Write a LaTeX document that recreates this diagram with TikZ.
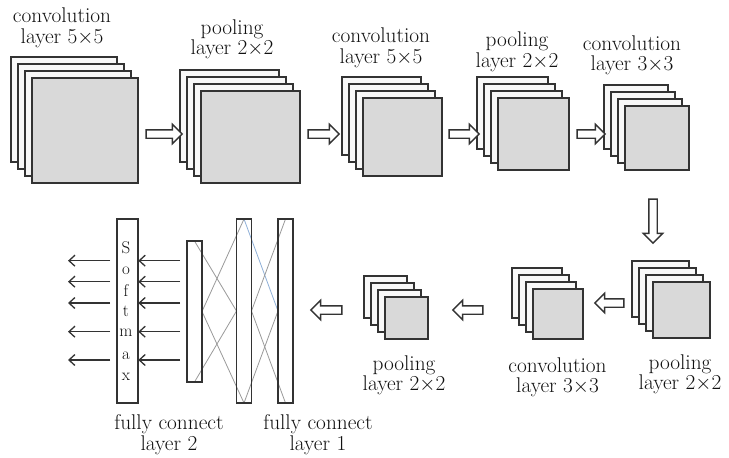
\documentclass[tikz,border=0pt]{standalone}
\usetikzlibrary{shapes.arrows,arrows.meta,backgrounds}
\definecolor{edge}{HTML}{333333}
\definecolor{frontfill}{HTML}{D9D9D9}
\definecolor{backfill}{HTML}{F8F8F8}
\definecolor{crossline}{HTML}{9A9A9A}
\definecolor{blueline}{HTML}{8FB0D8}
\definecolor{txt}{HTML}{111111}
\begin{document}
\begin{tikzpicture}[x=1pt,y=-1pt,
  backlayer/.style={draw=edge, line width=1.6pt, fill=backfill, inner sep=0pt, outer sep=0pt},
  frontlayer/.style={draw=edge, line width=1.6pt, fill=frontfill, inner sep=0pt, outer sep=0pt},
  hollow/.style={single arrow, draw=edge, fill=white, line width=1.4pt, inner sep=3.5pt,
    single arrow head extend=5.5pt, outer sep=0pt},
  fcbox/.style={draw=edge, line width=1.8pt, inner sep=0pt, outer sep=0pt},
  crossl/.style={draw=crossline, line width=0.8pt},
  fcarrow/.style={draw=edge, line width=1.3pt, -{Straight Barb[length=6pt,width=11pt]}},
  lbl/.style={font=\fontsize{21.3pt}{24pt}\selectfont, text=txt, inner sep=0pt, anchor=base},
  letter/.style={font=\fontsize{17pt}{19pt}\selectfont, text=txt, inner sep=0pt, anchor=base}]
\useasboundingbox (0,0) rectangle (729,458);

% stacks of feature maps
\foreach \n/\x/\y/\w/\h in {1/32/78/106/105, 2/201/91/99/92, 3/363/98/79/78, 4/498/98/71/72,
  5/625/106/64/64, 6/653/282/57/56, 7/533/289/50/50, 8/385/297/43/42}{
  \foreach \k in {3,2,1}{
    \node[backlayer, minimum width=\w pt, minimum height=\h pt] (s\n-\k)
      at ({\x-7*\k+\w/2},{\y-7*\k+\h/2}) {};
  }
  \node[frontlayer, minimum width=\w pt, minimum height=\h pt] (s\n-0)
    at ({\x+\w/2},{\y+\h/2}) {};
}

% hollow arrows
\node[hollow, minimum height=36pt] (a1) at (162,134) {};
\node[hollow, minimum height=31pt] (a2) at (321.5,134) {};
\node[hollow, minimum height=30pt] (a3) at (462,134) {};
\node[hollow, minimum height=28pt] (a4) at (589,134) {};
\node[hollow, minimum height=44pt, shape border rotate=270] (a5) at (653,219) {};
\node[hollow, minimum height=29pt, shape border rotate=180] (a6) at (611.5,303) {};
\node[hollow, minimum height=30pt, shape border rotate=180] (a7) at (470,310) {};
\node[hollow, minimum height=31pt, shape border rotate=180] (a8) at (328.5,310) {};

% fully connected part
\node[fcbox, minimum width=21.6pt, minimum height=184pt] (sm) at (127.5,311) {};
\node[fcbox, minimum width=15pt, minimum height=141pt] (fc2) at (194.5,311.5) {};
\node[fcbox, minimum width=15pt, minimum height=184pt] (fc1a) at (244,311) {};
\node[fcbox, minimum width=15pt, minimum height=184pt] (fc1b) at (285.5,311) {};

\begin{scope}[on background layer]
  \fill[white] (0,0) rectangle (729,458);
  \draw[crossl] (fc2.north) -- (fc1a.west);
  \draw[crossl] (fc2.east) -- (fc1a.north);
  \draw[crossl] (fc2.east) -- (fc1a.south);
  \draw[crossl] (fc2.south) -- (fc1a.west);
  \draw[draw=blueline, line width=0.8pt] (fc1a.north) -- (fc1b.west);
  \draw[crossl] (fc1a.east) -- (fc1b.north);
  \draw[crossl] (fc1a.east) -- (fc1b.south);
  \draw[crossl] (fc1a.south) -- (fc1b.west);
\end{scope}

\foreach \i/\c/\yy in {1/S/253, 2/o/274, 3/f/296, 4/t/316, 5/m/336, 6/a/359, 7/x/380}{
  \node[letter] (l\i) at (126,\yy) {\c};
}

\foreach \i/\yy in {1/260.7, 2/281.7, 3/303, 4/331.7, 5/360}{
  \coordinate (in\i) at (180,\yy);
  \coordinate (out\i) at (68,\yy);
  \draw[fcarrow] (in\i) -- (in\i -| sm.east);
  \draw[fcarrow, shorten <=6.5pt] (in\i -| sm.west) -- (out\i);
}

% labels
\node[lbl] (t1a) at (62,22) {convolution};
\node[lbl] (t1b) at (62,43) {layer 5\(\times\)5};
\node[lbl] (t2a) at (232,34) {pooling};
\node[lbl] (t2b) at (232,54) {layer 2\(\times\)2};
\node[lbl] (t3a) at (381,42) {convolution};
\node[lbl] (t3b) at (381,63) {layer 5\(\times\)5};
\node[lbl] (t4a) at (517,46) {pooling};
\node[lbl] (t4b) at (517,67) {layer 2\(\times\)2};
\node[lbl] (t5a) at (632,50) {convolution};
\node[lbl] (t5b) at (632,70) {layer 3\(\times\)3};
\node[lbl] (t6a) at (680,369) {pooling};
\node[lbl] (t6b) at (680,389) {layer 2\(\times\)2};
\node[lbl] (t7a) at (557.5,372) {convolution};
\node[lbl] (t7b) at (557.5,392) {layer 3\(\times\)3};
\node[lbl] (t8a) at (404,370) {pooling};
\node[lbl] (t8b) at (404,390) {layer 2\(\times\)2};
\node[lbl] (tf2a) at (169,429) {fully connect};
\node[lbl] (tf2b) at (169,450) {layer 2};
\node[lbl] (tf1a) at (318,429) {fully connect};
\node[lbl] (tf1b) at (318,450) {layer 1};
\end{tikzpicture}
\end{document}
